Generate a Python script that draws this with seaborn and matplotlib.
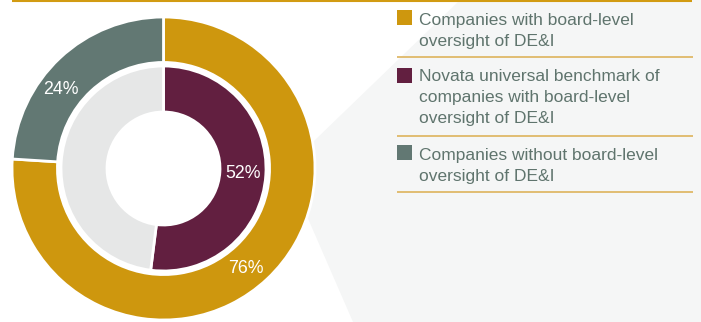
import numpy as np
import matplotlib
matplotlib.use("Agg")
import matplotlib.pyplot as plt
from matplotlib.patches import Polygon, Rectangle
import seaborn as sns

# ---- data ----
outer_values = [76, 24]          # companies with / without board-level DE&I oversight
inner_values = [52, 48]          # Novata universal benchmark (with / rest)
outer_show_label = [True, True]
inner_show_label = [True, False]

legend_entries = [
    ["Companies with board-level", "oversight of DE&I"],
    ["Novata universal benchmark of", "companies with board-level", "oversight of DE&I"],
    ["Companies without board-level", "oversight of DE&I"],
]

# ---- styling ----
sns.set_theme(style="white")
plt.rcParams["font.family"] = ["Liberation Sans", "DejaVu Sans"]

GOLD = "#CE970E"
SLATE = "#627873"
MAROON = "#621F40"
LIGHT = "#E6E7E7"
TEXT = "#5F746D"
RULE = "#DDB35C"
TOP_RULE = "#D29B12"
BG_SHAPE = "#F5F6F6"

palette_outer = sns.color_palette([GOLD, SLATE])
palette_inner = sns.color_palette([MAROON, LIGHT])
legend_colors = [GOLD, MAROON, SLATE]

W, H = 701, 322
DPI = 100
fig = plt.figure(figsize=(W / DPI, H / DPI), dpi=DPI, facecolor="white")

# background layer in pixel coordinates (origin top-left)
bg = fig.add_axes([0, 0, 1, 1], zorder=0)
bg.set_xlim(0, W)
bg.set_ylim(H, 0)
bg.axis("off")
bg.add_patch(Polygon([(460, 0), (286, 168), (353, H), (W, H), (W, 0)],
                     closed=True, facecolor=BG_SHAPE, edgecolor="none"))
bg.plot([12, 692], [0.9, 0.9], color=TOP_RULE, lw=1.5, solid_capstyle="butt")
for yy in (57, 136, 192):
    bg.plot([397, 693], [yy, yy], color=RULE, lw=1.2, solid_capstyle="butt")

# legend blocks
square_tops = [10, 68, 145]
first_baselines = [25, 80.5, 160]
line_step = 21
for color, lines, sq, base in zip(legend_colors, legend_entries, square_tops, first_baselines):
    bg.add_patch(Rectangle((397, sq), 15, 14.5, facecolor=color, edgecolor="none"))
    for i, line in enumerate(lines):
        bg.text(419, base + i * line_step, line, color=TEXT, fontsize=12.5,
                ha="left", va="baseline")

# donut chart
R = 151.5
cx, cy = 163.5, 168.5
ax = fig.add_axes([(cx - R) / W, (H - cy - R) / H, 2 * R / W, 2 * R / H], zorder=1)

outer_w = 0.30
inner_r = 102.5 / R
inner_w = 46.0 / R

outer_wedges, _ = ax.pie(outer_values, radius=1.0, colors=palette_outer,
                         startangle=90, counterclock=False,
                         wedgeprops=dict(width=outer_w, edgecolor="white", linewidth=2))
inner_wedges, _ = ax.pie(inner_values, radius=inner_r, colors=palette_inner,
                         startangle=90, counterclock=False,
                         wedgeprops=dict(width=inner_w, edgecolor="white", linewidth=2))
ax.set_xlim(-1, 1)
ax.set_ylim(-1, 1)
ax.set_aspect("equal")
ax.axis("off")
ax.patch.set_alpha(0)

# value labels
outer_angle_shift = [-3.8, 9.2]
for w, v, show, shift in zip(outer_wedges, outer_values, outer_show_label, outer_angle_shift):
    if not show:
        continue
    ang = np.deg2rad((w.theta1 + w.theta2) / 2 + shift)
    r = 130 / R
    ax.text(r * np.cos(ang), r * np.sin(ang), f"{v}%", color="white",
            fontsize=12.8, ha="center", va="center")

for w, v, show in zip(inner_wedges, inner_values, inner_show_label):
    if not show:
        continue
    ang = np.deg2rad((w.theta1 + w.theta2) / 2)
    r = 80 / R
    ax.text(r * np.cos(ang), r * np.sin(ang), f"{v}%", color="white",
            fontsize=12.8, ha="center", va="center")

fig.savefig("out.png", dpi=DPI, facecolor="white")
